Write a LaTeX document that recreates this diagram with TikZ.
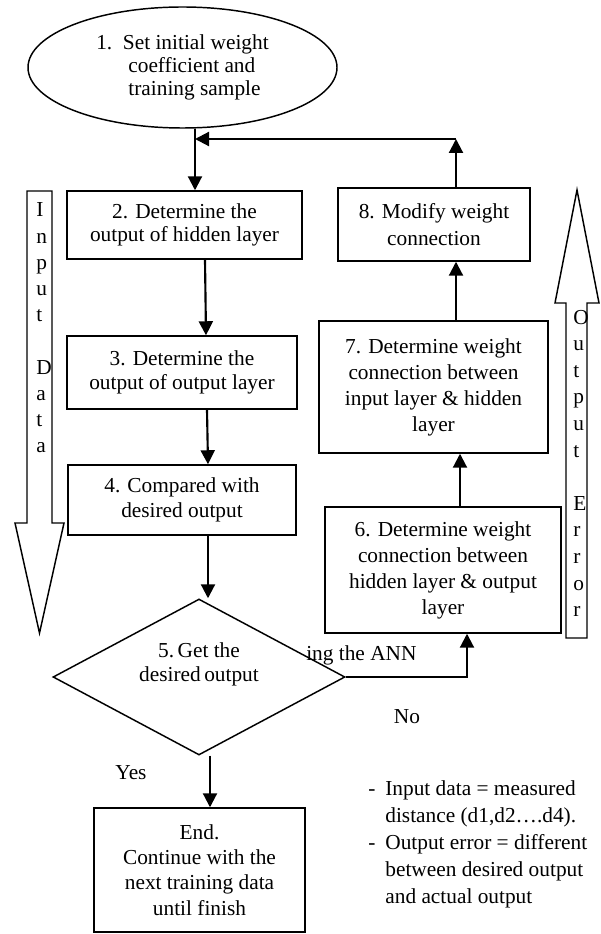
\documentclass[tikz,border=0pt]{standalone}
\usepackage{fontspec}
\setmainfont{Liberation Serif}
\usetikzlibrary{shapes.geometric,arrows.meta,calc}
\newdimen\pxu \pxu=0.75pt
\newcommand\myfont{\fontsize{16}{18.5}\selectfont}
\begin{document}
\begin{tikzpicture}[x=0.75pt,y=-0.75pt,
  bx/.style={draw, line width=1.1pt, align=center, inner sep=0pt, font=\myfont},
  arr/.style={line width=1.6pt, -{Triangle[length=10.5pt,width=10.5pt]}},
  lbl/.style={font=\myfont, inner sep=0pt},
  blk/.style={draw, line width=1.1pt}]
\useasboundingbox (0,0) rectangle (600,934);

% block arrows
\draw[blk] (27,191) -- (52,191) -- (52,523) -- (64,523) -- (39.5,633) -- (15,523) -- (27,523) -- cycle;
\draw[blk] (566,638) -- (587,638) -- (587,303) -- (599,303) -- (577,190) -- (555,303) -- (566,303) -- cycle;
\foreach \ch/\k in {I/0,n/1,p/2,u/3,t/4,D/6,a/7,t/8,a/9}
  \node[lbl, anchor=base west] (id\k) at (36,217+26.2*\k) {\ch};
\foreach \ch/\k in {O/0,u/1,t/2,p/3,u/4,t/5,E/7,r/8,r/9,o/10,r/11}
  \node[lbl, anchor=base west] (oe\k) at (573,324+26.6*\k) {\ch};

% nodes
\node[draw, ellipse, line width=1.1pt, minimum width=309\pxu, minimum height=121\pxu,
      inner sep=0pt, align=center, font=\fontsize{16}{17.5}\selectfont] (e1) at (182.5,67.5)
  {1.~~Set initial weight\\\hspace*{14pt}coefficient and\\\hspace*{18pt}training sample};
\node[bx, minimum width=235\pxu, minimum height=68\pxu, font=\fontsize{16}{17}\selectfont] (b2) at (184.5,225) {2. Determine the\\output of hidden layer};
\node[bx, minimum width=230\pxu, minimum height=73\pxu] (b3) at (182,372.5) {3. Determine the\\output of output layer};
\node[bx, minimum width=228\pxu, minimum height=70\pxu] (b4) at (182,500) {4. Compared with\\desired output};
\node[draw, diamond, aspect=1.87, line width=1.1pt, minimum width=292\pxu, minimum height=156\pxu,
      inner sep=0pt, align=center, font=\myfont] (d5) at (199,677) {5.\,Get the\\desired\,output\\[4pt]};
\node[bx, minimum width=192\pxu, minimum height=73\pxu, font=\fontsize{16}{20}\selectfont] (b8) at (434,224.5) {8. Modify weight\\connection};
\node[bx, minimum width=229\pxu, minimum height=132\pxu, font=\fontsize{16}{19.5}\selectfont] (b7) at (433.5,387) {7. Determine weight\\connection between\\input layer \& hidden\\layer};
\node[bx, minimum width=236\pxu, minimum height=126\pxu, font=\fontsize{16}{19.5}\selectfont] (b6) at (443,570) {6. Determine weight\\connection between\\hidden layer \& output\\layer};
\node[bx, minimum width=211\pxu, minimum height=124\pxu, font=\fontsize{16}{19}\selectfont] (b9) at (199.5,870) {End.\\Continue with the\\next training data\\until finish};

% labels
\node[lbl] (yes) at (131,773) {Yes};
\node[lbl] (no) at (407,717) {No};
\node[lbl, anchor=base west] (ann) at (306,660) {ing the ANN};
\node[lbl, anchor=north west, font=\fontsize{16}{20.25}\selectfont] (notes) at (368,776)
  {\begin{tabular}{@{}l@{\hspace{7.5pt}}l@{}}
   -&Input data = measured\\
    &distance (d1,d2….d4).\\
   -&Output error = different\\
    &between desired output\\
    &and actual output
   \end{tabular}};

% connectors
\coordinate (j) at (195,139);
\coordinate (r8) at (456,139);
\draw[arr] (e1.south -| j) -- (b2.north -| j);
\draw[arr] ([xshift=20.5\pxu]b2.south) -- ([xshift=24\pxu]b3.north);
\draw[arr] ([xshift=25\pxu]b3.south) -- ([xshift=26\pxu]b4.north);
\draw[arr] ([xshift=26\pxu]b4.south) -- ([xshift=26\pxu]b4.south |- d5.north);
\draw[arr] (d5.east) -| ([xshift=24\pxu]b6.south);
\draw[arr] ([xshift=17\pxu]b6.north) -- ([xshift=26.5\pxu]b7.south);
\draw[arr] ([xshift=22.5\pxu]b7.north) -- ([xshift=22\pxu]b8.south);
\draw[arr] (b8.north -| r8) -- (r8);
\draw[arr] (r8) -- (j);
\draw[arr] ([xshift=11\pxu]d5.south) -- ([xshift=10.5\pxu]b9.north);
\end{tikzpicture}
\end{document}
